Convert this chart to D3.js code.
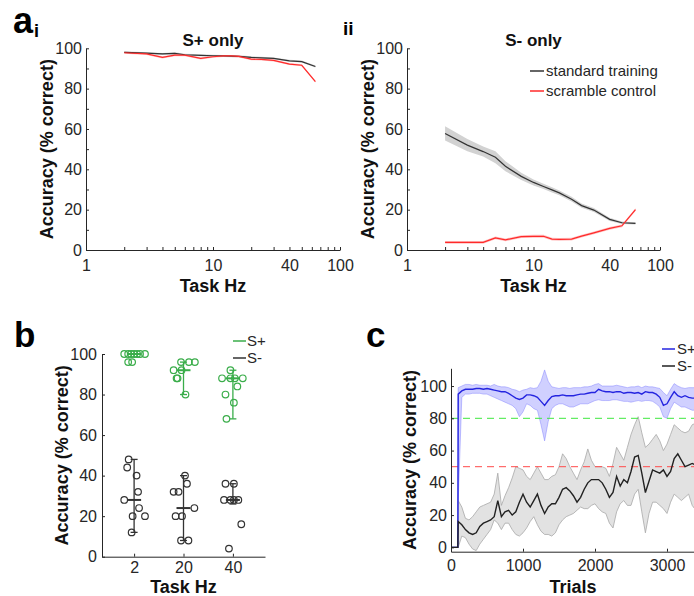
<!DOCTYPE html>
<head>
<meta charset="utf-8">
<title>Accuracy</title>
<script src="https://cdn.jsdelivr.net/npm/d3@7"></script>
<style>
body { margin: 0; background: #fff; }
svg text { font-family: Arial, "Liberation Sans", Helvetica, sans-serif; }
</style>
</head>
<body>
<div id="container"></div>
<script>

// ---- panel a : accuracy vs task Hz ----
const hzA = [2, 3, 4, 5, 6, 8, 10, 12, 14, 16, 20, 24, 30, 40, 50, 64];
// S+ only
const plusStd      = [98, 97.6, 97.2, 97.5, 96.8, 96.5, 96.3, 96.2, 96.1, 96, 95.5, 95.3, 95, 93.8, 93.4, 91];
const plusScramble = [97.8, 97.2, 95.5, 96.6, 96.6, 95, 95.8, 96.2, 96.2, 96, 94.6, 94.5, 94, 92.2, 91.6, 83.5];
// S- only
const minusStd      = [57.8, 52, 48.8, 46, 41.5, 36.5, 33.5, 31.5, 29.8, 28.3, 25.2, 22, 19.8, 15.2, 13.5, 13.2];
const minusStdSem   = [3.5, 3, 2.5, 3, 2.5, 1.8, 1.5, 1.3, 1.3, 1.2, 1.2, 1, 1, 0.8, 0.6, 0.6];
const minusScramble = [3.8, 3.8, 3.8, 6, 5, 6.6, 6.8, 6.8, 5.4, 5.3, 5.4, 6.9, 8.5, 10.7, 12, 20];
const scrambleSem   = 0.7;
const hzTicksA = [1, 10, 40, 100];

// ---- panel b : single animals ----
const hzB = ["2", "20", "40"];
const bPlusVals = [[100, 100, 100, 100, 100, 100, 100, 96, 96],
                   [96, 96, 96, 92, 92, 88, 88, 80],
                   [92, 88, 88, 88, 88, 84, 80, 76, 68]];
const bPlusJit  = [[-0.2, -0.12, -0.06, 0, 0.06, 0.12, 0.22, -0.12, -0.04],
                   [-0.05, 0.11, 0.23, -0.2, -0.04, -0.14, -0.12, 0.04],
                   [-0.05, -0.22, -0.05, 0.04, 0.2, 0.09, -0.15, 0.02, -0.13]];
const bMinusVals = [[48, 44, 40, 32, 28, 24, 20, 20, 12],
                    [40, 36, 32, 32, 24, 20, 20, 8, 8],
                    [36, 36, 28, 28, 28, 28, 16, 4]];
const bMinusJit  = [[-0.11, -0.14, 0.05, 0.08, -0.2, 0.1, -0.03, 0.22, -0.05],
                    [0.03, 0.07, -0.2, -0.1, 0.22, -0.16, -0.03, -0.05, 0.1],
                    [-0.15, 0.02, -0.18, -0.05, 0.02, 0.11, 0.17, -0.08]];
const bPlusMed = [100, 92, 88];
const bPlusRange = [[100, 100], [80, 96], [68, 92]];
const bMinusMed = [28, 24, 28];
const bMinusRange = [[12, 48], [8, 40], [26, 36]];

// ---- panel c : learning curve ----
const trialsC = [0, 95, 100, 150, 200, 250, 300, 350, 400, 450, 500, 550, 600, 650, 700, 750, 800, 850, 900, 950,
  1000, 1050, 1100, 1150, 1200, 1250, 1300, 1350, 1400, 1450, 1500, 1550, 1600, 1650, 1700, 1750, 1800, 1850, 1900, 1950,
  2000, 2050, 2100, 2150, 2200, 2250, 2300, 2350, 2400, 2450, 2500, 2550, 2600, 2650, 2700, 2750, 2800, 2850, 2900, 2950,
  3000, 3050, 3100, 3150, 3200, 3250, 3300, 3350, 3400];
const cPlus = [0, 0, 95, 97, 98, 98, 98, 98.5, 98.5, 98, 98.5, 98, 97.5, 97, 96.5, 96.5, 95.5, 94, 92.5, 91.7,
  92.5, 94.5, 94.5, 94, 93, 90.5, 88, 91, 93.5, 94, 94, 94.5, 94, 94, 94, 94.5, 95, 95, 95.5, 96,
  96, 98, 97, 96.5, 96.5, 96, 96.5, 96.5, 95.5, 96, 96, 95.5, 96, 95, 96.5, 96, 96, 95, 93, 88,
  89, 93, 96.5, 94, 93, 94, 93, 92.5, 92.5];
const cPlusHi = [0, 0, 99, 100, 101, 101, 100.5, 101, 100.5, 100.5, 100.5, 100, 101, 100, 99.5, 99.5, 99, 98, 97.5, 96.5,
  97.5, 98, 99, 98.5, 99, 103, 110, 103, 99.5, 99, 98.5, 99, 99, 98.5, 99, 99, 99, 99.5, 99.5, 100,
  101, 101.5, 100, 100, 100, 100, 100.5, 100, 99.5, 99, 99.5, 99.5, 100, 99, 100, 99.5, 99.5, 99, 98.5, 96,
  94, 98, 101.5, 100, 99, 98.5, 99, 99, 99];
const cPlusLo = [0, 0, 28, 93, 95, 95, 95.5, 95.5, 95.5, 95, 95, 94, 93, 92, 91, 90, 89, 88, 86, 81,
  84, 89, 88, 86, 85, 76, 66, 78, 86, 88, 89, 89, 88, 87, 87, 88, 89, 89, 89, 90,
  91, 91.5, 91, 91, 91, 91.5, 91.5, 91, 90.5, 90.5, 90, 90.5, 91, 90.5, 91, 91, 90.5, 89, 87, 81,
  80, 86, 90, 88.5, 87, 87, 86, 85, 85];
const cMinus = [0, 0, 16, 14, 11, 9, 8, 9, 13, 15, 16, 17, 19, 29, 19, 22, 23, 20, 22, 28,
  33, 28, 25, 29, 33, 26, 21, 25, 27, 27, 31, 36, 37, 35, 32, 28, 31, 36, 40, 42,
  42, 42, 40, 36, 31, 34, 44, 38, 42, 40, 47, 56, 57, 46, 34, 41, 48, 47, 46, 48,
  44, 47, 55, 58, 54, 50, 51, 52, 51];
const cMinusHi = [0, 0, 29, 25, 18, 17, 19, 22, 25, 26, 27, 28, 33, 46, 26, 32, 37, 43, 50, 49,
  48, 44, 42, 46, 50, 46, 42, 42, 44, 45, 50, 58, 55, 50, 46, 42, 48, 53, 61, 54,
  50, 50, 50, 49, 44, 52, 62, 58, 54, 62, 70, 76, 81, 71, 62, 64, 67, 70, 66, 60,
  64, 70, 76, 74, 72, 71, 72, 76, 77];
const cMinusLo = [0, 0, 0, 7, 6, 2, -1, -2, 2, 5, 8, 11, 17, 15, 11, 15, 15, 11, 8, 7,
  9, 12, 16, 19, 14, 10, 8, 8, 7, 9, 14, 17, 19, 20, 21, 23, 25, 24, 24, 26,
  27, 24, 22, 21, 15, 12, 22, 27, 29, 26, 26, 33, 36, 22, 9, 21, 28, 28, 26, 24,
  21, 28, 33, 31, 29, 31, 33, 26, 23];
const criterionPlus = 80;
const criterionMinus = 50;
const trialTicks = [0, 1000, 2000, 3000];

const ink = "#262626";
const redLine = "#ff2a2a";
const greenB = "#3aad4a";

const svg = d3.select("#container")
              .append("svg")
              .attr("width", 694)
              .attr("height", 596);

// axes helper: MATLAB look (ticks inside)
function styleAxis(g, size) {
    g.attr("font-size", size || 16)
     .attr("font-family", "Arial, 'Liberation Sans', sans-serif");
    g.select(".domain").attr("stroke", ink).attr("stroke-width", 1);
    g.selectAll(".tick line").attr("stroke", ink);
    g.selectAll(".tick text").attr("fill", ink);
}

function boldText(x, y, txt, size, rotate) {
    const t = svg.append("text")
       .attr("x", x).attr("y", y)
       .attr("text-anchor", "middle")
       .attr("font-weight", "bold")
       .attr("font-size", size)
       .attr("fill", "#111")
       .text(txt);
    if (rotate) t.attr("transform", `rotate(-90,${x},${y})`);
    return t;
}

// ---------- panel a ----------
const yA = d3.scaleLinear().domain([0, 100]).range([250, 48.3]);

function panelA(left, right, title, blk, blkSem, red, redSem, legend) {
    const x = d3.scaleLog().domain([1, 100]).range([left, right]);
    const g = svg.append("g");
    const idx = d3.range(hzA.length);

    const area = (m, e) => d3.area()
        .x(i => x(hzA[i]))
        .y0(i => yA(m[i] - (Array.isArray(e) ? e[i] : e)))
        .y1(i => yA(m[i] + (Array.isArray(e) ? e[i] : e)));
    const line = m => d3.line().x(i => x(hzA[i])).y(i => yA(m[i]));

    g.append("path").attr("d", area(blk, blkSem)(idx)).attr("fill", "#d2d2d2");
    g.append("path").attr("d", area(red, redSem)(idx)).attr("fill", "#ffc4c4");
    g.append("path").attr("d", line(blk)(idx)).attr("fill", "none").attr("stroke", "#333").attr("stroke-width", 1.2);
    g.append("path").attr("d", line(red)(idx)).attr("fill", "none").attr("stroke", redLine).attr("stroke-width", 1.2);

    const minor = [];
    for (let d = 1; d <= 10; d *= 10) for (let k = 1; k <= 9; k++) minor.push(k * d);
    minor.push(100);

    const gx = svg.append("g").attr("transform", `translate(0,${yA(0)})`)
        .call(d3.axisBottom(x).tickValues(minor)
              .tickFormat(d => hzTicksA.includes(d) ? d : "")
              .tickSizeInner(-3).tickSizeOuter(0).tickPadding(10));
    styleAxis(gx);
    const gy = svg.append("g").attr("transform", `translate(${left},0)`)
        .call(d3.axisLeft(yA).tickValues(d3.range(0, 101, 10))
              .tickFormat(d => d % 20 === 0 ? d : "")
              .tickSizeInner(-3).tickSizeOuter(0).tickPadding(4));
    styleAxis(gy);

    boldText((left + right) / 2, 46, title, 17);
    boldText((left + right) / 2, 292, "Task Hz", 18);
    boldText(left - 33, yA(50), "Accuracy (% correct)", 18, true);

    if (legend) {
        const items = [["standard training", "#333", 71], ["scramble control", redLine, 91]];
        items.forEach(([label, col, yy]) => {
            svg.append("line").attr("x1", 530).attr("x2", 544).attr("y1", yy).attr("y2", yy)
               .attr("stroke", col).attr("stroke-width", 1.5);
            svg.append("text").attr("x", 546).attr("y", yy + 5)
               .attr("font-size", 15).attr("fill", ink).text(label);
        });
    }
}

panelA(86, 340, "S+ only", plusStd, 0.5, plusScramble, 0.5, false);
panelA(407, 660, "S- only", minusStd, minusStdSem, minusScramble, scrambleSem, true);

// panel letters
svg.append("text").attr("x", 13).attr("y", 33).attr("font-size", 36).attr("font-weight", "bold").text("a");
svg.append("text").attr("x", 34).attr("y", 37).attr("font-size", 18).attr("font-weight", "bold").text("i");
svg.append("text").attr("x", 343).attr("y", 35).attr("font-size", 19).attr("font-weight", "bold").text("ii");
svg.append("text").attr("x", 14).attr("y", 347).attr("font-size", 35).attr("font-weight", "bold").text("b");
svg.append("text").attr("x", 366).attr("y", 347).attr("font-size", 35).attr("font-weight", "bold").text("c");

// ---------- panel b ----------
const xB = d3.scaleLinear().domain([0.35, 3.65]).range([102, 265]);
const yB = d3.scaleLinear().domain([0, 100]).range([556.7, 354]);

function groupB(vals, jit, med, range, col) {
    const g = svg.append("g").attr("stroke", col).attr("fill", "none");
    vals.forEach((arr, gi) => {
        const cx = xB(gi + 1);
        g.append("line").attr("x1", cx).attr("x2", cx)
         .attr("y1", yB(range[gi][0])).attr("y2", yB(range[gi][1])).attr("stroke-width", 1.3);
        range[gi].forEach(v => g.append("line").attr("x1", cx - 3.5).attr("x2", cx + 3.5)
         .attr("y1", yB(v)).attr("y2", yB(v)).attr("stroke-width", 1.3));
        g.append("line").attr("x1", cx - 7).attr("x2", cx + 7)
         .attr("y1", yB(med[gi])).attr("y2", yB(med[gi])).attr("stroke-width", 2);
        arr.forEach((v, k) => {
            g.append("circle").attr("cx", xB(gi + 1 + jit[gi][k])).attr("cy", yB(v))
             .attr("r", 3.3).attr("stroke-width", 1.2);
        });
    });
}
groupB(bPlusVals, bPlusJit, bPlusMed, bPlusRange, greenB);
groupB(bMinusVals, bMinusJit, bMinusMed, bMinusRange, "#333");

const gbx = svg.append("g").attr("transform", `translate(0,${yB(0)})`)
    .call(d3.axisBottom(xB).tickValues([1, 2, 3]).tickFormat((d, i) => hzB[i])
          .tickSizeInner(-3).tickSizeOuter(0).tickPadding(5));
styleAxis(gbx);
const gby = svg.append("g").attr("transform", `translate(102,0)`)
    .call(d3.axisLeft(yB).tickValues(d3.range(0, 101, 20))
          .tickSizeInner(-3).tickSizeOuter(0).tickPadding(5));
styleAxis(gby);
boldText(183.5, 593, "Task Hz", 18);
boldText(68, yB(50), "Accuracy (% correct)", 18, true);

[["S+", greenB, 341], ["S-", "#333", 358]].forEach(([label, col, yy]) => {
    svg.append("line").attr("x1", 233).attr("x2", 246).attr("y1", yy).attr("y2", yy)
       .attr("stroke", col).attr("stroke-width", 1.5);
    svg.append("text").attr("x", 247).attr("y", yy + 5)
       .attr("font-size", 15).attr("fill", ink).text(label);
});

// ---------- panel c ----------
const xC = d3.scaleLinear().domain([0, 4000]).range([451, 739]);
const yC = d3.scaleLinear().domain([-2.7, 111]).range([551.7, 368.3]);
const idxC = d3.range(trialsC.length);

const bandC = (lo, hi) => d3.area().x(i => xC(trialsC[i])).y0(i => yC(lo[i])).y1(i => yC(hi[i]));
const lineC = m => d3.line().x(i => xC(trialsC[i])).y(i => yC(m[i]));

svg.append("path").attr("d", bandC(cPlusLo, cPlusHi)(idxC))
   .attr("fill", "rgba(120,120,255,0.35)").attr("stroke", "rgba(120,120,255,0.55)").attr("stroke-width", 0.8);
svg.append("path").attr("d", bandC(cMinusLo, cMinusHi)(idxC))
   .attr("fill", "rgba(190,190,190,0.45)").attr("stroke", "#a8a8a8").attr("stroke-width", 0.8);

[[criterionPlus, "#3ee83e"], [criterionMinus, "#ff4a4a"]].forEach(([v, col]) => {
    svg.append("line").attr("x1", xC(0)).attr("x2", 694)
       .attr("y1", yC(v)).attr("y2", yC(v))
       .attr("stroke", col).attr("stroke-width", 1).attr("stroke-dasharray", "7,5");
});

svg.append("path").attr("d", lineC(cPlus)(idxC)).attr("fill", "none")
   .attr("stroke", "#2424e0").attr("stroke-width", 1.4);
svg.append("path").attr("d", lineC(cMinus)(idxC)).attr("fill", "none")
   .attr("stroke", "#222").attr("stroke-width", 1.4);

const gcx = svg.append("g").attr("transform", `translate(0,${yC.range()[0]})`)
    .call(d3.axisBottom(xC).tickValues(trialTicks).tickFormat(d3.format("d"))
          .tickSizeInner(-3).tickSizeOuter(0).tickPadding(8));
styleAxis(gcx);
const gcy = svg.append("g").attr("transform", `translate(451,0)`)
    .call(d3.axisLeft(yC).tickValues(d3.range(0, 101, 20))
          .tickSizeInner(-3).tickSizeOuter(0).tickPadding(4));
styleAxis(gcy);
boldText(573, 593, "Trials", 18);
boldText(416, 460, "Accuracy (% correct)", 18, true);

[["S+", "#2424e0", 349], ["S-", "#222", 366]].forEach(([label, col, yy]) => {
    svg.append("line").attr("x1", 662).attr("x2", 675).attr("y1", yy).attr("y2", yy)
       .attr("stroke", col).attr("stroke-width", 1.5);
    svg.append("text").attr("x", 677).attr("y", yy + 5)
       .attr("font-size", 15).attr("fill", ink).text(label);
});

</script>
</body>
